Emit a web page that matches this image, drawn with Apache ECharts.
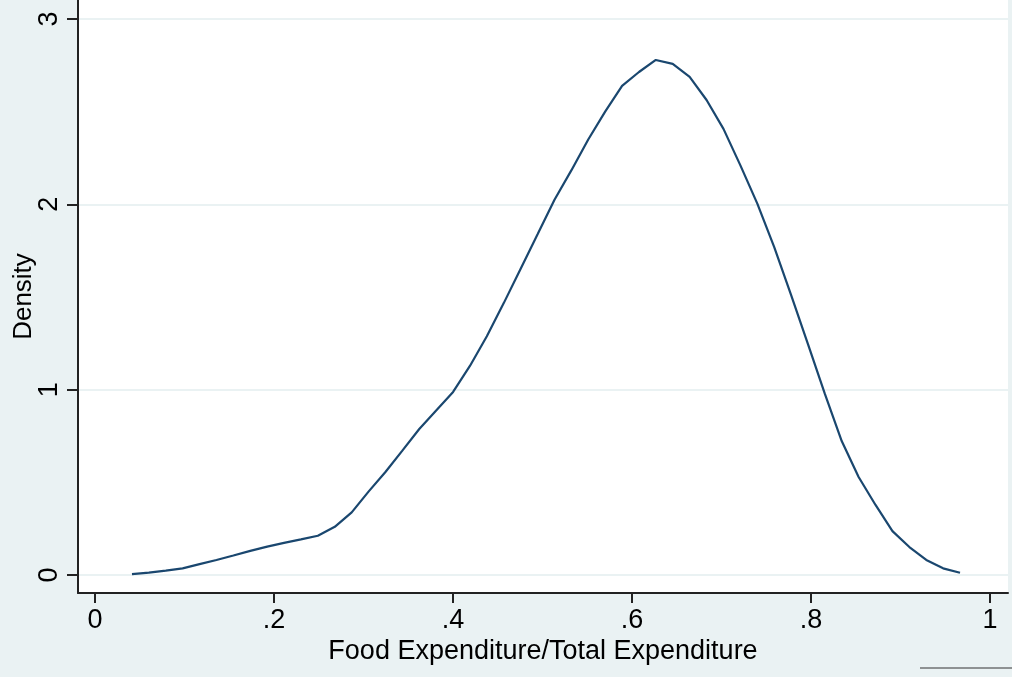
<!DOCTYPE html>
<html>
<head>
<meta charset="utf-8">
<script src="https://cdn.jsdelivr.net/npm/echarts@6/dist/echarts.min.js"></script>
<style>
html,body{margin:0;padding:0;background:#EAF2F3;}
#chart{width:1012px;height:677px;}
</style>
</head>
<body>
<div id="chart"></div>
<script>
// Kernel density evaluation points (food share) and density values
const shareValues = [
  0.0413, 0.0602, 0.0791, 0.0979, 0.1168, 0.1357, 0.1546, 0.1735, 0.1924, 0.2112,
  0.2301, 0.2490, 0.2679, 0.2868, 0.3056, 0.3245, 0.3434, 0.3623, 0.3812, 0.4001,
  0.4189, 0.4378, 0.4567, 0.4756, 0.4945, 0.5134, 0.5322, 0.5511, 0.5700, 0.5889,
  0.6078, 0.6266, 0.6455, 0.6644, 0.6833, 0.7022, 0.7211, 0.7399, 0.7588, 0.7777,
  0.7966, 0.8155, 0.8343, 0.8532, 0.8721, 0.8910, 0.9099, 0.9288, 0.9476, 0.9665
];
const densityValues = [
  0.005, 0.013, 0.024, 0.036, 0.059, 0.081, 0.105, 0.130, 0.153, 0.173,
  0.192, 0.212, 0.260, 0.338, 0.450, 0.556, 0.671, 0.788, 0.888, 0.988,
  1.128, 1.288, 1.467, 1.653, 1.838, 2.025, 2.183, 2.350, 2.500, 2.639,
  2.714, 2.779, 2.758, 2.688, 2.563, 2.407, 2.210, 2.005, 1.770, 1.511,
  1.246, 0.977, 0.723, 0.529, 0.378, 0.237, 0.151, 0.081, 0.036, 0.012
];
const xTickValues = [0, 0.2, 0.4, 0.6, 0.8, 1];
const xTickLabels = ['0', '.2', '.4', '.6', '.8', '1'];
const yTickValues = [0, 1, 2, 3];
const yTickLabels = ['0', '1', '2', '3'];
const xTitle = 'Food Expenditure/Total Expenditure';
const yTitle = 'Density';

const seriesData = shareValues.map((x, i) => [x, densityValues[i]]);
function labelFor(values, labels) {
  return function (v) {
    for (let i = 0; i < values.length; i++) {
      if (Math.abs(values[i] - v) < 1e-9) return labels[i];
    }
    return '';
  };
}

const FONT = 'Liberation Sans, Arial, sans-serif';
const chart = echarts.init(document.getElementById('chart'), null, {renderer: 'canvas'});
chart.setOption({
  animation: false,
  backgroundColor: '#EAF2F3',
  grid: {
    left: 78, right: 4, top: 0, bottom: 84,
    containLabel: false, outerBoundsMode: 'none',
    show: true, backgroundColor: '#FFFFFF', borderWidth: 0
  },
  xAxis: {
    type: 'value',
    min: -0.019, max: 1.0201,
    name: xTitle,
    nameLocation: 'middle',
    nameGap: 45,
    nameMoveOverlap: false,
    nameTextStyle: {fontFamily: FONT, fontSize: 27, color: '#000'},
    axisLine: {show: true, onZero: false, lineStyle: {color: '#222', width: 2}},
    axisTick: {show: true, customValues: xTickValues, length: 10, lineStyle: {color: '#222', width: 2}},
    axisLabel: {
      customValues: xTickValues, formatter: labelFor(xTickValues, xTickLabels),
      fontFamily: FONT, fontSize: 27, color: '#000', margin: 14
    },
    splitLine: {show: false}
  },
  yAxis: {
    type: 'value',
    min: -0.0971, max: 3.1025,
    name: yTitle,
    nameLocation: 'middle',
    nameGap: 41,
    nameMoveOverlap: false,
    nameTextStyle: {fontFamily: FONT, fontSize: 26, color: '#000'},
    axisLine: {show: true, onZero: false, lineStyle: {color: '#222', width: 2}},
    axisTick: {show: true, customValues: yTickValues, length: 11, lineStyle: {color: '#222', width: 2}},
    axisLabel: {
      customValues: yTickValues, formatter: labelFor(yTickValues, yTickLabels),
      rotate: 90, fontFamily: FONT, fontSize: 27, color: '#000', margin: 15
    },
    splitLine: {show: true, lineStyle: {color: '#EAF2F3', width: 2}}
  },
  series: [{
    type: 'line',
    data: seriesData,
    showSymbol: false,
    smooth: false,
    lineStyle: {color: '#1A476F', width: 2.2},
    itemStyle: {color: '#1A476F'}
  }],
  graphic: [{
    type: 'line',
    shape: {x1: 920, y1: 668, x2: 1012, y2: 668},
    style: {stroke: '#333', lineWidth: 1}
  }]
});
</script>
</body>
</html>
